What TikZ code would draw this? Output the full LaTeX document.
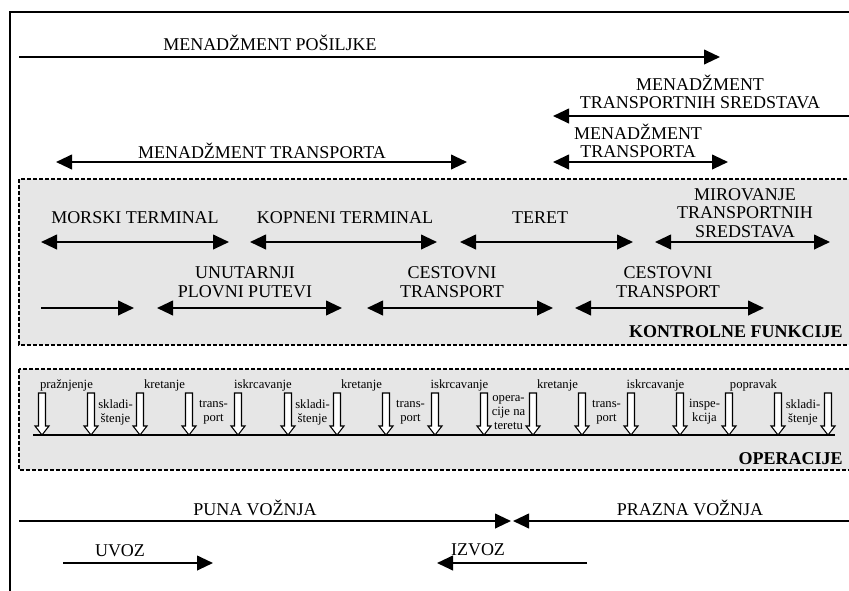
\documentclass[tikz,border=0pt]{standalone}
\usepackage{fontspec}
\setmainfont{Liberation Serif}
\usepackage{xcolor}
\usetikzlibrary{arrows.meta}
\definecolor{boxgray}{RGB}{230,230,230}

\begin{document}
\begin{tikzpicture}[x=0.75pt,y=0.75pt,yscale=-1,xscale=1,
  caplbl/.style={font=\fontsize{13.5}{14}\selectfont,inner sep=0pt,align=center},
  boldlbl/.style={font=\fontsize{13.5}{14}\selectfont\bfseries,inner sep=0pt,anchor=east},
  opl/.style={font=\fontsize{9.5}{10.5}\selectfont,inner sep=0pt,align=center},
  onearr/.style={line width=1.5pt,-{Triangle[length=12pt,width=11pt]}},
  twoarr/.style={line width=1.5pt,{Triangle[length=12pt,width=11pt]}-{Triangle[length=12pt,width=11pt]}},
  boxline/.style={dash pattern={on 3pt off 1.5pt},line width=0.9pt,fill=boxgray}]
\useasboundingbox (0,0) rectangle (849,590);

%Frame
\draw [line width=1.1pt] (10,600) -- (10,12) -- (870,12) ;
%Dashed boxes
\draw [boxline] (19,179) rectangle (870,345) ;
\draw [boxline] (19,369) rectangle (870,470) ;

%Arrow ends
\coordinate (posA) at (19,57);   \coordinate (posB) at (720,57);
\coordinate (sredA) at (870,116); \coordinate (sredB) at (553,116);
\coordinate (mtA) at (56,162);   \coordinate (mtB) at (467,162);
\coordinate (mtC) at (553,162);  \coordinate (mtD) at (728,162);
\coordinate (morA) at (41,242);  \coordinate (morB) at (229,242);
\coordinate (kopA) at (250,242); \coordinate (kopB) at (437,242);
\coordinate (terA) at (460,242); \coordinate (terB) at (633,242);
\coordinate (mirA) at (655,242); \coordinate (mirB) at (830,242);
\coordinate (seaA) at (41,308);  \coordinate (seaB) at (134,308);
\coordinate (unuA) at (157,308); \coordinate (unuB) at (342,308);
\coordinate (cesA) at (367,308); \coordinate (cesB) at (553,308);
\coordinate (cesC) at (575,308); \coordinate (cesD) at (764,308);
\coordinate (punA) at (19,521);  \coordinate (punB) at (511,521);
\coordinate (praA) at (870,521); \coordinate (praB) at (513,521);
\coordinate (uvA) at (63,563);   \coordinate (uvB) at (213,563);
\coordinate (izA) at (587,563);  \coordinate (izB) at (437,563);
\coordinate (opsA) at (33,435);  \coordinate (opsB) at (835,435);

%Straight Lines
\draw [onearr] (posA) -- (posB) ;
\draw [onearr] (sredA) -- (sredB) ;
\draw [twoarr] (mtA) -- (mtB) ;
\draw [twoarr] (mtC) -- (mtD) ;
\draw [twoarr] (morA) -- (morB) ;
\draw [twoarr] (kopA) -- (kopB) ;
\draw [twoarr] (terA) -- (terB) ;
\draw [twoarr] (mirA) -- (mirB) ;
\draw [onearr] (seaA) -- (seaB) ;
\draw [twoarr] (unuA) -- (unuB) ;
\draw [twoarr] (cesA) -- (cesB) ;
\draw [twoarr] (cesC) -- (cesD) ;
\draw [onearr] (punA) -- (punB) ;
\draw [onearr] (praA) -- (praB) ;
\draw [onearr] (uvA) -- (uvB) ;
\draw [onearr] (izA) -- (izB) ;
\draw [line width=1.5pt] (opsA) -- (opsB) ;

%Block arrows
\foreach \x [count=\i] in {42,91,140,189,238,288,337,386,435,484,533,582,631,680,729,778,828}
{ \draw [line width=0.8pt,fill=white] (\x-3.5,393) -- (\x+3.5,393) -- (\x+3.5,426) -- (\x+7,426) -- (\x,435) -- (\x-7,426) -- (\x-3.5,426) -- cycle ;
  \coordinate (op\i) at (\x,435) ; }

% Text Node
\node [caplbl] (posT) at (270,43) {MENADŽMENT POŠILJKE};
\node [caplbl] (sredT) at (700,92) {MENADŽMENT\\TRANSPORTNIH SREDSTAVA};
\node [caplbl] (mtT) at (262,151) {MENADŽMENT TRANSPORTA};
\node [caplbl] (mt2T) at (638,141) {MENADŽMENT\\TRANSPORTA};
\node [caplbl] (morT) at (135,218) {MORSKI TERMINAL};
\node [caplbl] (kopT) at (345,218) {KOPNENI TERMINAL};
\node [caplbl] (terT) at (540,218) {TERET};
\node [caplbl] (mirT) at (745,213) {MIROVANJE\\TRANSPORTNIH\\SREDSTAVA};
\node [caplbl] (unuT) at (245,282) {UNUTARNJI\\PLOVNI PUTEVI};
\node [caplbl] (cesT) at (452,282) {CESTOVNI\\TRANSPORT};
\node [caplbl] (ces2T) at (668,282) {CESTOVNI\\TRANSPORT};
\node [boldlbl] (konT) at (843,332) {KONTROLNE FUNKCIJE};
\node [boldlbl] (opeT) at (843,459) {OPERACIJE};
\node [caplbl] (punT) at (255,508) {PUNA VOŽNJA};
\node [caplbl] (praT) at (690,508) {PRAZNA VOŽNJA};
\node [caplbl] (uvT) at (120,551) {UVOZ};
\node [caplbl] (izT) at (478,550) {IZVOZ};

% Operation labels
\node [opl] (o1) at (66.5,385) {pražnjenje};
\node [opl] (o2) at (164.5,385) {kretanje};
\node [opl] (o3) at (263,385) {iskrcavanje};
\node [opl] (o4) at (361.5,385) {kretanje};
\node [opl] (o5) at (459.5,385) {iskrcavanje};
\node [opl] (o6) at (557.5,385) {kretanje};
\node [opl] (o7) at (655.5,385) {iskrcavanje};
\node [opl] (o8) at (753.5,385) {popravak};
\node [opl] (i1) at (115.5,412) {skladi-\\štenje};
\node [opl] (i2) at (213.5,412) {trans-\\port};
\node [opl] (i3) at (312.5,412) {skladi-\\štenje};
\node [opl] (i4) at (410.5,412) {trans-\\port};
\node [opl] (i5) at (508.5,413) {opera-\\cije na\\teretu};
\node [opl] (i6) at (606.5,412) {trans-\\port};
\node [opl] (i7) at (704.5,412) {inspe-\\kcija};
\node [opl] (i8) at (803,412) {skladi-\\štenje};

\end{tikzpicture}
\end{document}
